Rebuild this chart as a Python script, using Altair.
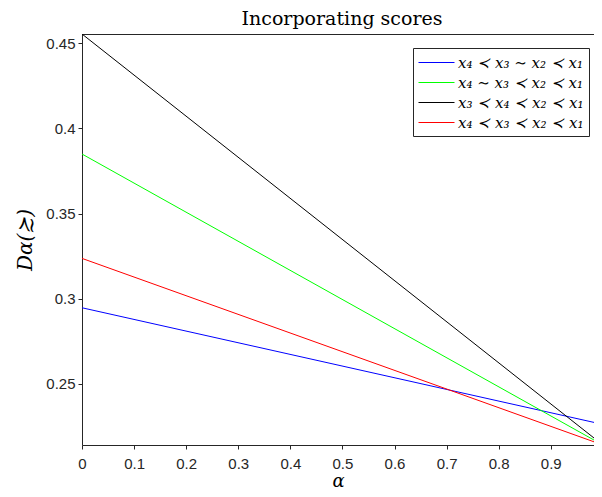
import altair as alt
import pandas as pd

# ---- data ----
alpha = [0.0, 1.0]
series_names = [
    "x₄ ≺ x₃ ∼ x₂ ≺ x₁",
    "x₄ ∼ x₃ ≺ x₂ ≺ x₁",
    "x₃ ≺ x₄ ≺ x₂ ≺ x₁",
    "x₄ ≺ x₃ ≺ x₂ ≺ x₁",
]
blue_vals = [0.2947, 0.2262]
green_vals = [0.3850, 0.2141]
black_vals = [0.4555, 0.2141]
red_vals = [0.3237, 0.2141]
series_colors = ["#0000ff", "#00ff00", "#000000", "#ff0000"]
x_ticks = [0, 0.1, 0.2, 0.3, 0.4, 0.5, 0.6, 0.7, 0.8, 0.9, 1]
y_ticks = [0.25, 0.3, 0.35, 0.4, 0.45]
# the reference axes run a little past the right edge of the picture
x_visible = [0, 0.983]
y_domain = [0.2141, 0.4555]

rows = []
for name, vals in zip(series_names, [blue_vals, green_vals, black_vals, red_vals]):
    for a, v in zip(alpha, vals):
        rows.append({"alpha": a, "D": v, "series": name})
df = pd.DataFrame(rows)

axis_common = dict(
    grid=False,
    domainColor="#262626",
    tickColor="#262626",
    tickSize=4,
    labelFont="Liberation Sans",
    labelFontSize=15,
    labelColor="#262626",
    titleFont="DejaVu Serif",
    titleFontStyle="italic",
    titleFontWeight="normal",
    titleColor="#000000",
)

x_scale = alt.Scale(domain=x_visible, nice=False, zero=False)
y_scale = alt.Scale(domain=y_domain, nice=False, zero=False)

lines = (
    alt.Chart(df)
    .mark_line(strokeWidth=1, clip=True)
    .encode(
        x=alt.X(
            "alpha:Q",
            scale=x_scale,
            axis=alt.Axis(values=x_ticks, format="~g", title="α", labelPadding=7,
                          labelFlush=False, titlePadding=1, titleFontSize=18,
                          **axis_common),
        ),
        y=alt.Y(
            "D:Q",
            scale=y_scale,
            axis=alt.Axis(values=y_ticks, format="~g", title="Dα(≿)", labelPadding=3,
                          labelFlush=False, titlePadding=10, titleFontSize=20,
                          **axis_common),
        ),
        color=alt.Color(
            "series:N",
            scale=alt.Scale(domain=series_names, range=series_colors),
            legend=alt.Legend(
                title=None,
                orient="none",
                legendX=331,
                legendY=14,
                strokeColor="#262626",
                fillColor="white",
                padding=5,
                symbolType="M-1,0H3",
                symbolSize=324,
                symbolStrokeWidth=1,
                labelFont="DejaVu Serif",
                labelFontStyle="italic",
                labelFontSize=15,
                labelOffset=21,
                labelLimit=0,
                labelColor="#000000",
                rowPadding=2,
            ),
        ),
    )
)

top_border = (
    alt.Chart(df)
    .mark_point(opacity=0, clip=True)
    .encode(
        x=alt.X("alpha:Q", scale=x_scale,
                axis=alt.Axis(orient="top", labels=False, ticks=False, title=None,
                              grid=False, domainColor="#262626")),
        y=alt.Y("D:Q", scale=y_scale, axis=None),
    )
)

chart = (
    alt.layer(lines, top_border)
    .resolve_axis(x="independent", y="independent")
    .properties(
        width=512,
        height=411,
        title=alt.TitleParams(
            "Incorporating scores",
            font="DejaVu Serif",
            fontSize=19,
            fontWeight="normal",
            color="#000000",
            offset=5,
            dx=4,
        ),
        padding={"left": 74, "top": 26, "right": 0, "bottom": 44},
        autosize=alt.AutoSizeParams(type="none"),
    )
    .configure_view(stroke=None)
    .configure(background="white")
)

chart.save("out.html", embed_options={"renderer": "svg", "actions": False})
